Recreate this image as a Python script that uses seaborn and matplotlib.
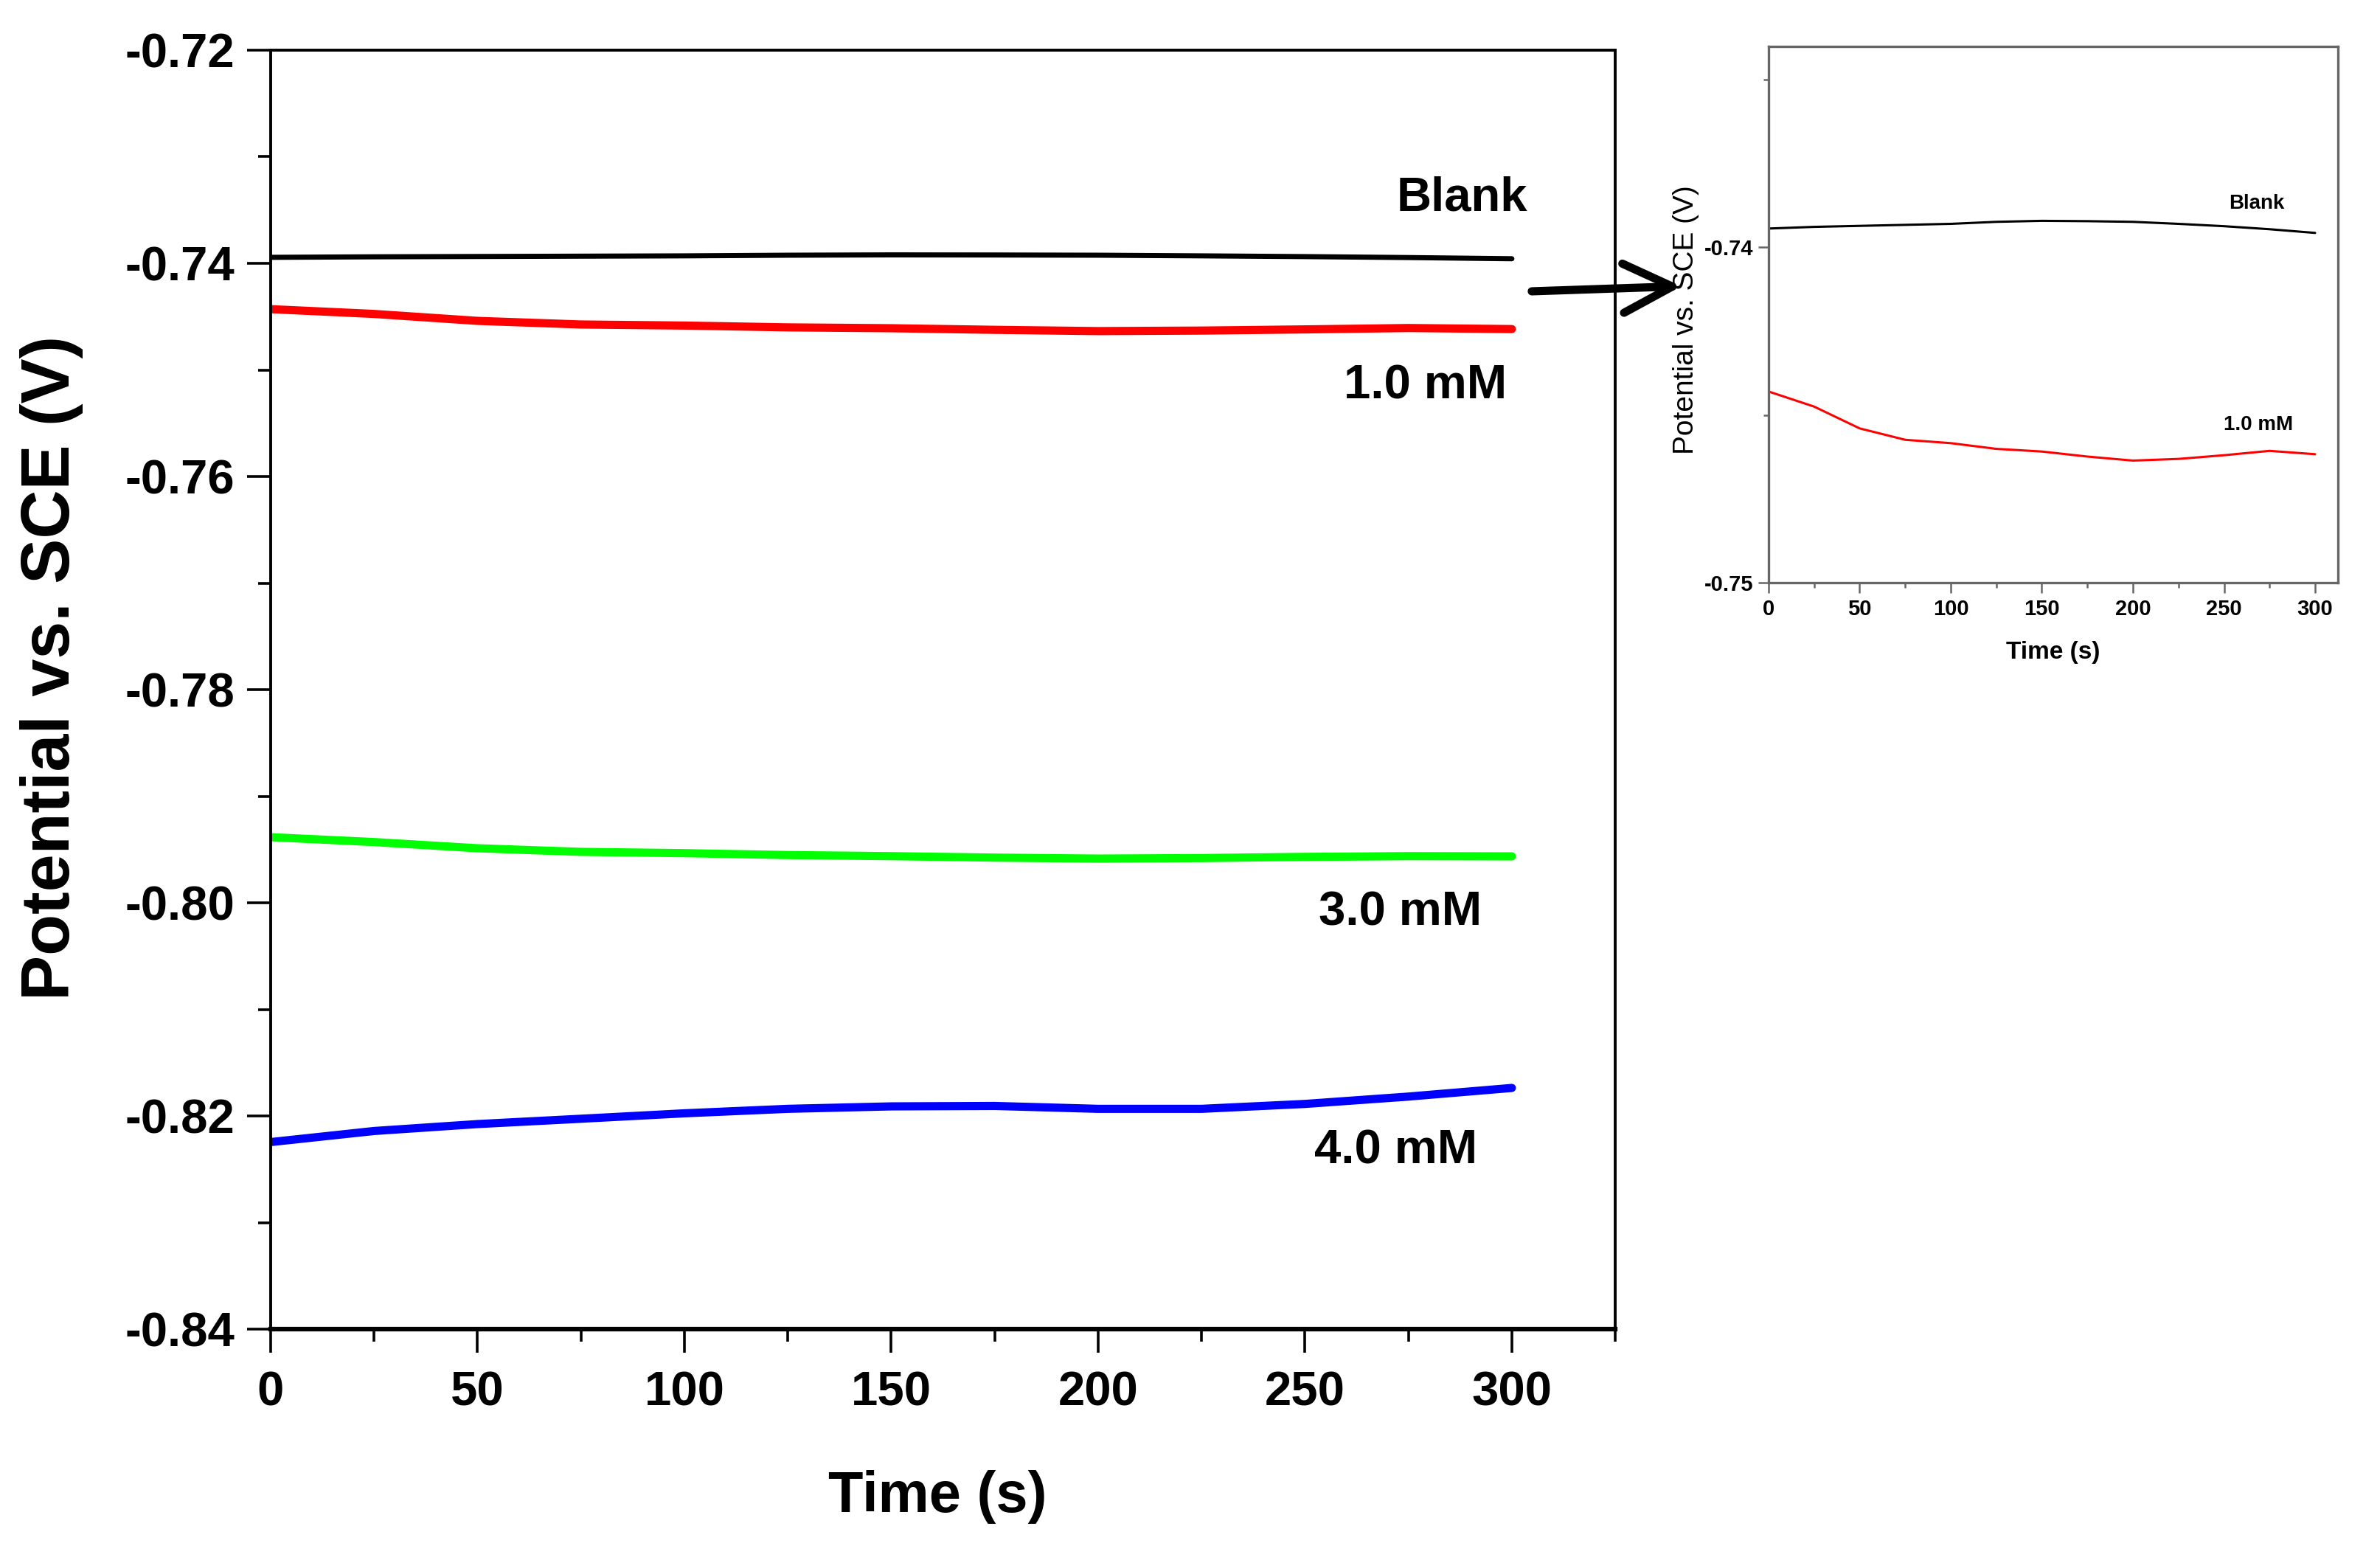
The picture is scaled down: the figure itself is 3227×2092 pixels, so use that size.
#!/usr/bin/env python3
"""Open-circuit potential vs. time for blank and inhibitor solutions, with zoomed inset."""

import matplotlib

matplotlib.use("Agg")
import matplotlib.pyplot as plt
import pandas as pd
import seaborn as sns
from matplotlib.ticker import FormatStrFormatter, MultipleLocator

# values
time_s = [0, 25, 50, 75, 100, 125, 150, 175, 200, 225, 250, 275, 300]
blank = [-0.73944, -0.73939, -0.73936, -0.73933, -0.73930, -0.73924, -0.73921,
         -0.73922, -0.73924, -0.73930, -0.73937, -0.73946, -0.73957]
conc_1mm = [-0.74430, -0.74475, -0.74540, -0.74574, -0.74584, -0.74601, -0.74609,
            -0.74624, -0.74636, -0.74631, -0.74620, -0.74607, -0.74617]
conc_3mm = [-0.79384, -0.79430, -0.79488, -0.79522, -0.79534, -0.79552, -0.79562,
            -0.79576, -0.79585, -0.79580, -0.79569, -0.79562, -0.79564]
conc_4mm = [-0.82245, -0.82141, -0.82076, -0.82026, -0.81975, -0.81933, -0.81910,
            -0.81906, -0.81933, -0.81933, -0.81887, -0.81818, -0.81737]

series_names = ["Blank", "1.0 mM", "3.0 mM", "4.0 mM"]
series_values = [blank, conc_1mm, conc_3mm, conc_4mm]
series_colors = ["#000000", "#ff0000", "#00ff00", "#0000ff"]

main_ticks = [-0.84, -0.82, -0.80, -0.78, -0.76, -0.74, -0.72]
inset_ticks = [-0.75, -0.74]

FONT = ["Liberation Sans", "DejaVu Sans"]


def style_axis(ax, spine_w, tick_w, major_len, minor_len, color):
    for spine in ax.spines.values():
        spine.set_linewidth(spine_w)
        spine.set_color(color)
    ax.tick_params(which="both", direction="out", bottom=True, left=True,
                   top=False, right=False, width=tick_w, color=color,
                   labelcolor="black")
    ax.tick_params(which="major", length=major_len)
    ax.tick_params(which="minor", length=minor_len)


def main() -> None:
    sns.set_style("white")
    plt.rcParams["font.family"] = FONT
    plt.rcParams["text.color"] = "black"
    plt.rcParams["axes.labelcolor"] = "black"

    df = pd.DataFrame({
        "Time": time_s * len(series_names),
        "Potential": [v for vals in series_values for v in vals],
        "Series": [n for n in series_names for _ in time_s],
    })

    fig = plt.figure(figsize=(32.27, 20.92), dpi=100)
    ax = fig.add_axes([0.1137, 0.1386, 0.5650, 0.8289])

    for name, color in zip(series_names, series_colors):
        sub = df[df["Series"] == name]
        sns.lineplot(data=sub, x="Time", y="Potential", ax=ax, color=color,
                     linewidth=5 if name == "Blank" else 8, legend=False)

    ax.set_xlim(0, 325)
    ax.set_ylim(-0.84, -0.72)
    ax.set_yticks(main_ticks)
    ax.yaxis.set_major_formatter(FormatStrFormatter("%.2f"))
    ax.yaxis.set_minor_locator(MultipleLocator(0.01))
    ax.set_xticks(range(0, 301, 50))
    ax.xaxis.set_minor_locator(MultipleLocator(25))

    style_axis(ax, 2.8, 2.6, 23, 12, "black")
    ax.spines["bottom"].set_linewidth(4.5)
    ax.tick_params(axis="y", which="major", pad=12, labelsize=47)
    ax.tick_params(axis="x", which="major", pad=18, labelsize=47)
    for lab in ax.get_yticklabels() + ax.get_xticklabels():
        lab.set_fontweight("bold")

    ax.set_xlabel("Time (s)", fontsize=56, fontweight="bold")
    ax.set_ylabel("Potential vs. SCE (V)", fontsize=66, fontweight="bold")
    ax.xaxis.set_label_coords(0.496, -0.110)
    ax.yaxis.set_label_coords(-0.139, 0.517)

    main_labels = {"Blank": (288, -0.7339), "1.0 mM": (279, -0.7515),
                   "3.0 mM": (273, -0.8009), "4.0 mM": (272, -0.8233)}
    for text, (x, y) in main_labels.items():
        ax.text(x, y, text, fontsize=47, fontweight="bold",
                ha="center", va="center")

    # zoomed inset with blank and 1.0 mM curves
    inset = fig.add_axes([0.7431, 0.6224, 0.2392, 0.3477])
    for name, color in zip(series_names[:2], series_colors[:2]):
        sub = df[df["Series"] == name]
        sns.lineplot(data=sub, x="Time", y="Potential", ax=inset, color=color,
                     linewidth=2.2, legend=False)
    inset.set_xlim(0, 312.5)
    inset.set_ylim(-0.75, -0.734)
    inset.set_yticks(inset_ticks)
    inset.yaxis.set_major_formatter(FormatStrFormatter("%.2f"))
    inset.yaxis.set_minor_locator(MultipleLocator(0.005))
    inset.set_xticks(range(0, 301, 50))
    inset.xaxis.set_minor_locator(MultipleLocator(25))
    style_axis(inset, 2.4, 1.8, 10, 5, "#666666")
    inset.tick_params(axis="y", pad=5, labelsize=21)
    inset.tick_params(axis="x", pad=6, labelsize=21)
    for lab in inset.get_xticklabels() + inset.get_yticklabels():
        lab.set_fontweight("bold")
    inset.set_xlabel("Time (s)", fontsize=24, fontweight="bold")
    inset.set_ylabel("Potential vs. SCE (V)", fontsize=28)
    inset.xaxis.set_label_coords(0.5, -0.109)
    inset.yaxis.set_label_coords(-0.122, 0.49)
    inset.text(268, -0.7387, "Blank", fontsize=20, fontweight="bold",
               ha="center", va="center")
    inset.text(269, -0.7453, "1.0 mM", fontsize=20, fontweight="bold",
               ha="center", va="center")

    inset.annotate(
        "", xy=(0.7065, 0.8145), xytext=(0.6436, 0.8112),
        xycoords="figure fraction", textcoords="figure fraction",
        annotation_clip=False,
        arrowprops=dict(arrowstyle="->,head_length=4.8,head_width=2.4",
                        mutation_scale=10, lw=8, color="black",
                        shrinkA=0, shrinkB=0, capstyle="round", joinstyle="round"),
    )

    fig.savefig("out.png", dpi=100)
    plt.close(fig)


if __name__ == "__main__":
    main()
